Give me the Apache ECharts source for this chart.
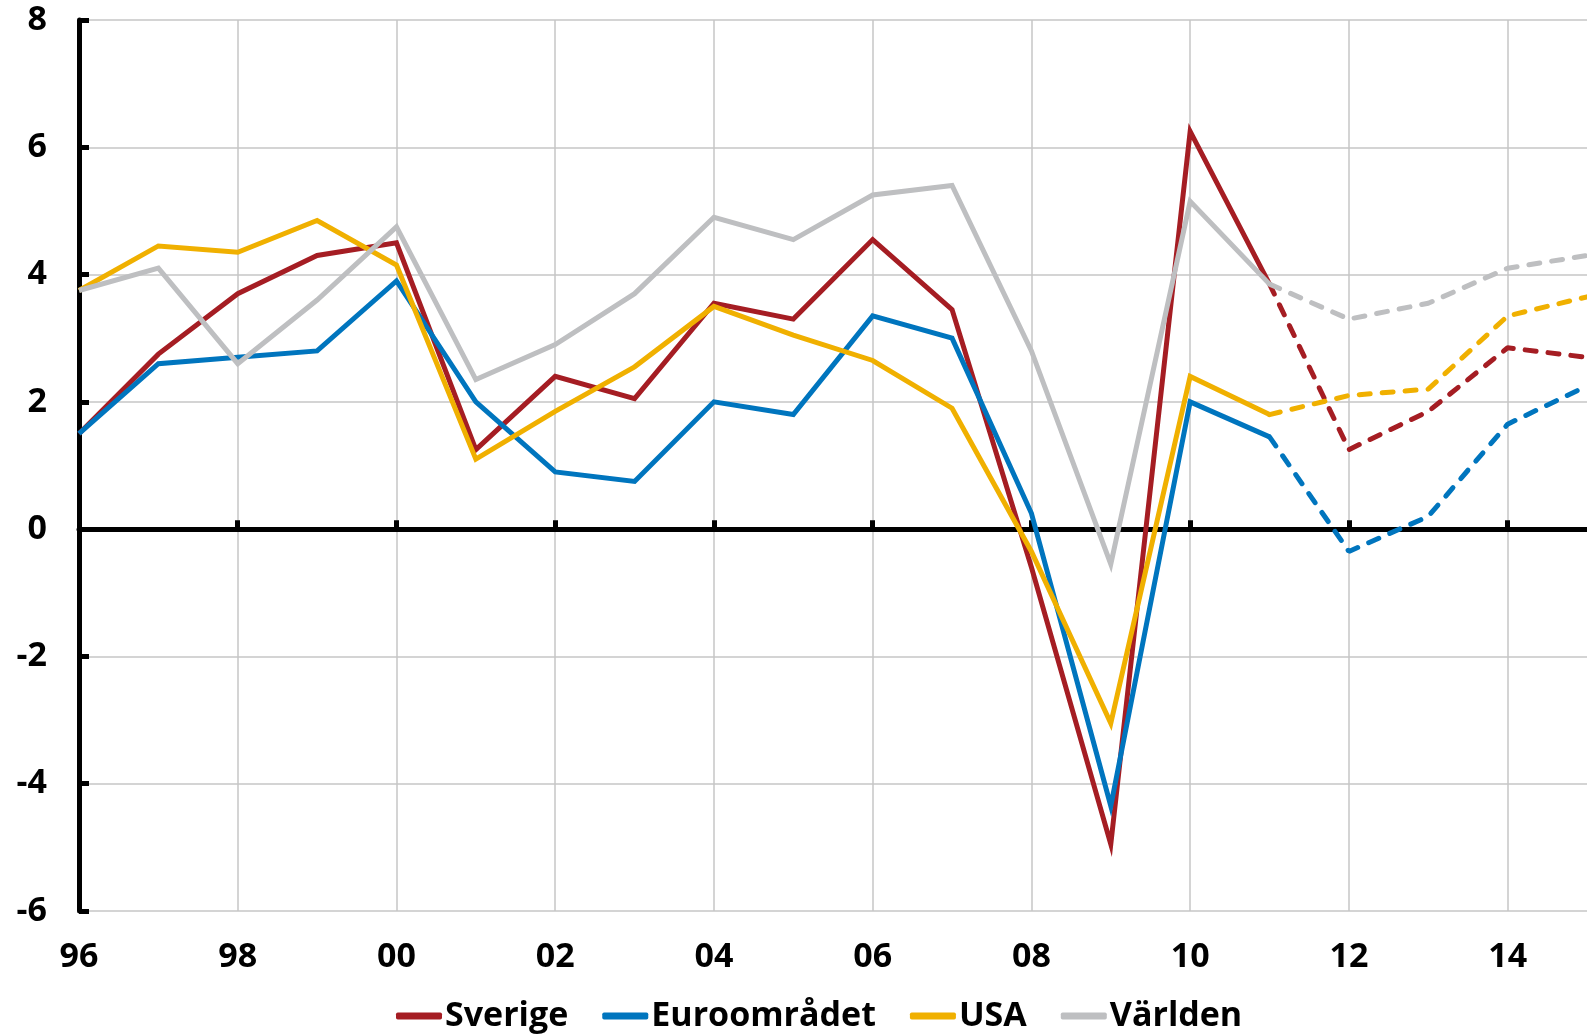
<!DOCTYPE html>
<html>
<head>
<meta charset="utf-8">
<script src="https://cdn.jsdelivr.net/npm/echarts@6/dist/echarts.min.js"></script>
<style>
  html, body { margin: 0; padding: 0; background: #fff; }
  #chart { width: 1587px; height: 1035px; }
</style>
</head>
<body>
<div id="chart"></div>
<script>
// years 1996 - 2015, forecast (dashed) from 2011
var years = ['96','97','98','99','00','01','02','03','04','05','06','07','08','09','10','11','12','13','14','15'];
var sverige = [1.5, 2.75, 3.7, 4.3, 4.5, 1.25, 2.4, 2.05, 3.55, 3.3, 4.55, 3.45, -0.6, -4.95, 6.25, 3.85, 1.25, 1.85, 2.85, 2.7];
var euro = [1.5, 2.6, 2.7, 2.8, 3.9, 2.0, 0.9, 0.75, 2.0, 1.8, 3.35, 3.0, 0.25, -4.35, 2.0, 1.45, -0.35, 0.2, 1.65, 2.25];
var usa = [3.75, 4.45, 4.35, 4.85, 4.15, 1.1, 1.85, 2.55, 3.5, 3.05, 2.65, 1.9, -0.35, -3.05, 2.4, 1.8, 2.1, 2.2, 3.35, 3.65];
var varlden = [3.75, 4.1, 2.6, 3.6, 4.75, 2.35, 2.9, 3.7, 4.9, 4.55, 5.25, 5.4, 2.8, -0.55, 5.15, 3.85, 3.3, 3.55, 4.1, 4.3];
var forecastFrom = 15; // index of 2011

var names = ['Sverige', 'Euroområdet', 'USA', 'Världen'];
var colors = ['#A51D23', '#0075BE', '#F0B000', '#BEBFC1'];
var values = [sverige, euro, usa, varlden];

var font = 'Open Sans';
var chart = echarts.init(document.getElementById('chart'));

function part(arr, solid) {
  return arr.map(function (v, i) {
    if (solid) return i <= forecastFrom ? v : null;
    return i >= forecastFrom ? v : null;
  });
}

var series = [];
names.forEach(function (n, k) {
  series.push({
    name: n, type: 'line', data: part(values[k], true),
    symbol: 'none', color: colors[k], z: 3 + k,
    lineStyle: { width: 5, color: colors[k], join: 'miter' }
  });
});
names.forEach(function (n, k) {
  series.push({
    name: n, type: 'line', data: part(values[k], false),
    symbol: 'none', color: colors[k], z: 3 + k,
    lineStyle: { width: 5, color: colors[k], type: [11, 12], cap: 'round' }
  });
});

var option = {
  animation: false,
  backgroundColor: '#fff',
  grid: { left: 79, right: 0, top: 20, bottom: 124 },
  legend: {
    data: names,
    left: 391,
    bottom: -3,
    icon: 'roundRect',
    itemWidth: 46,
    itemHeight: 7,
    itemGap: 34,
    selectedMode: false,
    textStyle: { fontFamily: font, fontWeight: 'bold', fontSize: 34, color: '#000', padding: [0, 0, 0, -2] }
  },
  xAxis: [{
    type: 'category',
    data: years,
    boundaryGap: false,
    position: 'bottom',
    axisLine: { show: false, onZero: false },
    axisTick: { show: false },
    axisLabel: { interval: 1, margin: 29, fontFamily: font, fontWeight: 'bold', fontSize: 34, color: '#000' },
    splitLine: { show: true, interval: 1, lineStyle: { color: '#C6C6C6', width: 1.5 } }
  }, {
    type: 'category',
    data: years,
    boundaryGap: false,
    position: 'bottom',
    axisLine: { show: true, onZero: true, lineStyle: { color: '#000', width: 5 } },
    axisTick: { show: true, inside: true, interval: 1, length: 9, lineStyle: { color: '#000', width: 5 } },
    axisLabel: { show: false },
    splitLine: { show: false }
  }],
  yAxis: {
    type: 'value',
    min: -6, max: 8, interval: 2,
    axisLine: { show: true, onZero: false, lineStyle: { color: '#000', width: 5 } },
    axisTick: { show: true, inside: true, length: 10, lineStyle: { color: '#000', width: 5 } },
    axisLabel: { margin: 32, fontFamily: font, fontWeight: 'bold', fontSize: 34, color: '#000' },
    splitLine: { show: true, lineStyle: { color: '#C6C6C6', width: 1.5 } }
  },
  series: series
};

chart.setOption(option);
</script>
</body>
</html>
